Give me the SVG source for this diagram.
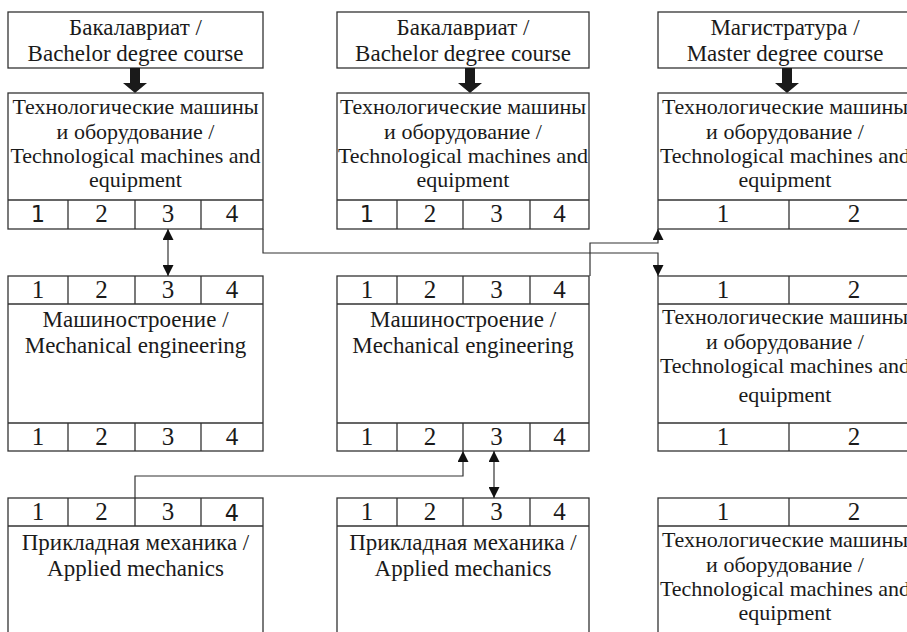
<svg xmlns="http://www.w3.org/2000/svg" width="907" height="632" viewBox="0 0 907 632">
<style>
.box{fill:#fff;stroke:#333;stroke-width:1.3}
.ln{fill:none;stroke:#333;stroke-width:1.3}
.t{font-family:'Liberation Serif','Times New Roman',serif;font-size:23px;fill:#1a1a1a;text-anchor:middle}
.tt{font-size:22px}
.n{font-size:25px}
.s{font-family:'DejaVu Sans','Liberation Sans',sans-serif;font-size:22.5px}
.c{fill:none;stroke:#333;stroke-width:1.2}
.big{fill:#1a1a1a}
</style>
<defs>
<marker id="ah" viewBox="0 0 10 10" refX="10" refY="5" markerWidth="11" markerHeight="11" markerUnits="userSpaceOnUse" orient="auto-start-reverse"><path d="M0,0 L10,5 L0,10 z" fill="#111"/></marker>
</defs>

<g id="hdr1">
<rect class="box" x="8" y="12" width="255" height="56"/>
<text class="t" x="135.5" y="35">Бакалавриат /</text>
<text class="t" x="135.5" y="61">Bachelor degree course</text>
</g>
<g id="hdr2">
<rect class="box" x="337" y="12" width="252" height="56"/>
<text class="t" x="463" y="35">Бакалавриат /</text>
<text class="t" x="463" y="61">Bachelor degree course</text>
</g>
<g id="hdr3">
<rect class="box" x="658" y="12" width="262" height="56"/>
<text class="t" x="785" y="35">Магистратура /</text>
<text class="t" x="785" y="61">Master degree course</text>
</g>

<g id="bigarrows">
<polygon class="big" points="130,68 140,68 140,83 147,83 135,93 123,83 130,83"/>
<polygon class="big" points="465,68 475,68 475,83 482,83 470,93 458,83 465,83"/>
<polygon class="big" points="782,68 792,68 792,83 799,83 787,93 775,83 782,83"/>
</g>

<g id="tech1">
<rect class="box" x="8" y="93" width="255" height="136"/>
<path class="ln" d="M8,200H263M68,200V229M135,200V229M201,200V229"/>
<text class="t tt" x="135.5" y="114">Технологические машины</text>
<text class="t tt" x="135.5" y="139">и оборудование /</text>
<text class="t tt" x="135.5" y="163">Technological machines and</text>
<text class="t tt" x="135.5" y="187">equipment</text>
<text class="t s" x="38" y="222">1</text>
<text class="t n" x="101.5" y="222">2</text>
<text class="t n" x="168" y="222">3</text>
<text class="t n" x="232" y="222">4</text>
</g>
<g id="tech2">
<rect class="box" x="337" y="93" width="252" height="136"/>
<path class="ln" d="M337,200H589M397,200V229M463,200V229M530,200V229"/>
<text class="t tt" x="463" y="114">Технологические машины</text>
<text class="t tt" x="463" y="139">и оборудование /</text>
<text class="t tt" x="463" y="163">Technological machines and</text>
<text class="t tt" x="463" y="187">equipment</text>
<text class="t s" x="367" y="222">1</text>
<text class="t n" x="430" y="222">2</text>
<text class="t n" x="496.5" y="222">3</text>
<text class="t n" x="559.5" y="222">4</text>
</g>
<g id="tech3">
<rect class="box" x="658" y="93" width="262" height="136"/>
<path class="ln" d="M658,200H920M789,200V229"/>
<text class="t tt" x="785" y="114">Технологические машины</text>
<text class="t tt" x="785" y="139">и оборудование /</text>
<text class="t tt" x="785" y="163">Technological machines and</text>
<text class="t tt" x="785" y="187">equipment</text>
<text class="t n" x="723" y="222">1</text>
<text class="t n" x="854" y="222">2</text>
</g>

<g id="mech1">
<rect class="box" x="8" y="276" width="255" height="175"/>
<path class="ln" d="M8,304H263M8,423H263M68,276V304M135,276V304M201,276V304M68,423V451M135,423V451M201,423V451"/>
<text class="t n" x="38" y="298">1</text>
<text class="t n" x="101.5" y="298">2</text>
<text class="t n" x="168" y="298">3</text>
<text class="t n" x="232" y="298">4</text>
<text class="t" x="135.5" y="327">Машиностроение /</text>
<text class="t" x="135.5" y="353">Mechanical engineering</text>
<text class="t n" x="38" y="445">1</text>
<text class="t n" x="101.5" y="445">2</text>
<text class="t n" x="168" y="445">3</text>
<text class="t n" x="232" y="445">4</text>
</g>
<g id="mech2">
<rect class="box" x="337" y="276" width="252" height="175"/>
<path class="ln" d="M337,304H589M337,423H589M397,276V304M463,276V304M530,276V304M397,423V451M463,423V451M530,423V451"/>
<text class="t n" x="367" y="298">1</text>
<text class="t n" x="430" y="298">2</text>
<text class="t n" x="496.5" y="298">3</text>
<text class="t n" x="559.5" y="298">4</text>
<text class="t" x="463" y="327">Машиностроение /</text>
<text class="t" x="463" y="353">Mechanical engineering</text>
<text class="t n" x="367" y="445">1</text>
<text class="t n" x="430" y="445">2</text>
<text class="t n" x="496.5" y="445">3</text>
<text class="t n" x="559.5" y="445">4</text>
</g>
<g id="tech4">
<rect class="box" x="658" y="276" width="262" height="175"/>
<path class="ln" d="M658,304H920M658,423H920M789,276V304M789,423V451"/>
<text class="t n" x="723" y="298">1</text>
<text class="t n" x="854" y="298">2</text>
<text class="t tt" x="785" y="324">Технологические машины</text>
<text class="t tt" x="785" y="349">и оборудование /</text>
<text class="t tt" x="785" y="373">Technological machines and</text>
<text class="t tt" x="785" y="402">equipment</text>
<text class="t n" x="723" y="445">1</text>
<text class="t n" x="854" y="445">2</text>
</g>

<g id="appl1">
<rect class="box" x="8" y="498" width="255" height="170"/>
<path class="ln" d="M8,526H263M68,498V526M135,498V526M201,498V526"/>
<text class="t n" x="38" y="520">1</text>
<text class="t n" x="101.5" y="520">2</text>
<text class="t n" x="168" y="520">3</text>
<text class="t s" x="232" y="521">4</text>
<text class="t" x="135.5" y="550">Прикладная механика /</text>
<text class="t" x="135.5" y="576">Applied mechanics</text>
</g>
<g id="appl2">
<rect class="box" x="337" y="498" width="252" height="170"/>
<path class="ln" d="M337,526H589M397,498V526M463,498V526M530,498V526"/>
<text class="t n" x="367" y="520">1</text>
<text class="t n" x="430" y="520">2</text>
<text class="t n" x="496.5" y="520">3</text>
<text class="t n" x="559.5" y="520">4</text>
<text class="t" x="463" y="550">Прикладная механика /</text>
<text class="t" x="463" y="576">Applied mechanics</text>
</g>
<g id="tech5">
<rect class="box" x="658" y="498" width="262" height="170"/>
<path class="ln" d="M658,526H920M789,498V526"/>
<text class="t n" x="723" y="520">1</text>
<text class="t n" x="854" y="520">2</text>
<text class="t tt" x="785" y="547">Технологические машины</text>
<text class="t tt" x="785" y="572">и оборудование /</text>
<text class="t tt" x="785" y="596">Technological machines and</text>
<text class="t tt" x="785" y="620">equipment</text>
</g>

<g id="connectors">
<path class="c" d="M168,229V276" marker-start="url(#ah)" marker-end="url(#ah)"/>
<path class="c" d="M263,229V253H658V276" marker-end="url(#ah)"/>
<path class="c" d="M590,276V243H658V229" marker-end="url(#ah)"/>
<path class="c" d="M135,498V476H463V451" marker-end="url(#ah)"/>
<path class="c" d="M494,451V498" marker-start="url(#ah)" marker-end="url(#ah)"/>
</g>
</svg>
